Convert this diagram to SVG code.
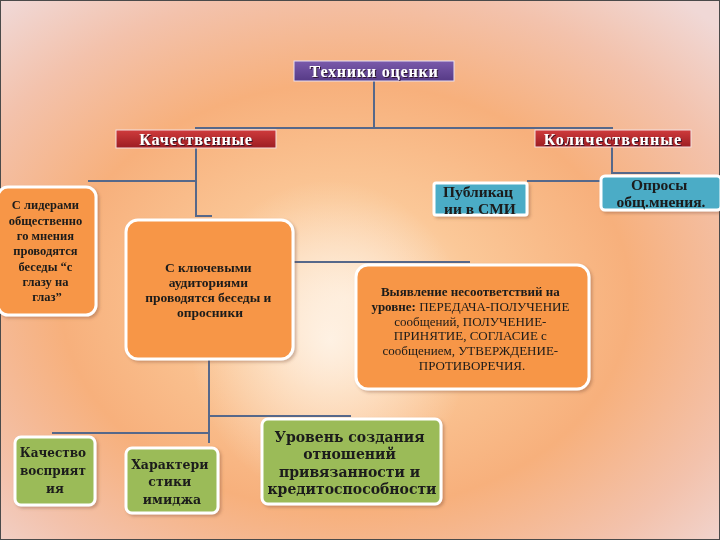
<svg xmlns="http://www.w3.org/2000/svg" width="720" height="540" viewBox="0 0 720 540">
<defs>
  <radialGradient id="bg" cx="0.48" cy="0.55" r="0.72">
    <stop offset="0" stop-color="#fde2c6"/>
    <stop offset="0.25" stop-color="#fbc898"/>
    <stop offset="0.55" stop-color="#f7b07c"/>
    <stop offset="0.8" stop-color="#f3c2ac"/>
    <stop offset="1" stop-color="#f0d8d6"/>
  </radialGradient>
  <radialGradient id="glow" cx="0.5" cy="0.5" r="0.5">
    <stop offset="0" stop-color="#fff6ec" stop-opacity="0.85"/>
    <stop offset="1" stop-color="#fff6ec" stop-opacity="0"/>
  </radialGradient>
  <linearGradient id="purple" x1="0" y1="0" x2="0" y2="1">
    <stop offset="0" stop-color="#7a5aab"/>
    <stop offset="1" stop-color="#563a86"/>
  </linearGradient>
  <linearGradient id="red" x1="0" y1="0" x2="0" y2="1">
    <stop offset="0" stop-color="#cf3b3c"/>
    <stop offset="1" stop-color="#9c1d22"/>
  </linearGradient>
  <filter id="ts" x="-10%" y="-30%" width="120%" height="160%">
    <feDropShadow dx="1" dy="1" stdDeviation="0.6" flood-color="#2a1020" flood-opacity="0.9"/>
  </filter>
  <filter id="bs" x="-10%" y="-10%" width="125%" height="125%">
    <feDropShadow dx="2" dy="2" stdDeviation="1.5" flood-color="#7a4a30" flood-opacity="0.35"/>
  </filter>
</defs>
<style>
  .hdr{font-family:"Liberation Serif","DejaVu Serif",serif;font-weight:bold;fill:#ffffff;text-anchor:middle;dominant-baseline:central}
  .t{font-family:"Liberation Serif","DejaVu Serif",serif;font-weight:bold;fill:#1a1a1a;text-anchor:middle;dominant-baseline:central}
  .g{font-family:"DejaVu Serif","Liberation Serif",serif;font-weight:bold;fill:#1a1a1a;text-anchor:middle;dominant-baseline:central}
  .n{font-weight:normal}
  .orange{fill:#f79646;stroke:#ffffff;stroke-width:3}
  .blue{fill:#4bacc6;stroke:#ffffff;stroke-width:3}
  .green{fill:#9bbb59;stroke:#ffffff;stroke-width:3}
  .conn{fill:none;stroke:#56688a;stroke-width:2}
</style>

<rect x="0" y="0" width="720" height="540" fill="url(#bg)"/>
<ellipse cx="330" cy="340" rx="140" ry="160" fill="url(#glow)"/>
<rect x="0.5" y="0.5" width="719" height="539" fill="none" stroke="#4a4a4a" stroke-width="1"/>

<g id="connectors">
  <path class="conn" d="M374,81 V128 M195,128 H613"/>
  <path class="conn" d="M196,148 V216 H212"/>
  <path class="conn" d="M88,181 H196"/>
  <path class="conn" d="M293,262 H470"/>
  <path class="conn" d="M612,147 V173 H680 M527,181 H601"/>
  <path class="conn" d="M209,359 V443 M209,416 H351 M52,433 H209"/>
</g>

<g id="tehniki">
  <rect x="294" y="61" width="160" height="20" fill="url(#purple)" stroke="#e8e0f0" stroke-width="1"/>
  <text class="hdr" x="374" y="71" font-size="16" letter-spacing="0.8" filter="url(#ts)">Техники оценки</text>
</g>

<g id="kach">
  <rect x="116" y="130" width="160" height="18" fill="url(#red)" stroke="#f3e0e0" stroke-width="1"/>
  <text class="hdr" x="196" y="139" font-size="16" letter-spacing="0.8" filter="url(#ts)">Качественные</text>
</g>

<g id="kolich">
  <rect x="535" y="130" width="156" height="17" fill="url(#red)" stroke="#f3e0e0" stroke-width="1"/>
  <text class="hdr" x="613" y="139" font-size="16" letter-spacing="1.2" filter="url(#ts)">Количественные</text>
</g>

<g id="lidery" filter="url(#bs)">
  <rect class="orange" x="-2" y="187" width="98" height="128" rx="10"/>
  <text class="t" font-size="12.5">
    <tspan x="47" y="205">С лидерами</tspan>
    <tspan x="47" y="221">общественно</tspan>
    <tspan x="47" y="236">го мнения</tspan>
    <tspan x="47" y="251">проводятся</tspan>
    <tspan x="47" y="267">беседы “с</tspan>
    <tspan x="47" y="282">глазу на</tspan>
    <tspan x="47" y="297">глаз”</tspan>
  </text>
</g>

<g id="klyuch" filter="url(#bs)">
  <rect class="orange" x="126" y="220" width="167" height="139" rx="12"/>
  <text class="t" font-size="13.5">
    <tspan x="210" y="267">С ключевыми</tspan>
    <tspan x="210" y="282">аудиториями</tspan>
    <tspan x="210" y="297">проводятся беседы и</tspan>
    <tspan x="210" y="312">опросники</tspan>
  </text>
</g>

<g id="publik" filter="url(#bs)">
  <rect class="blue" x="434" y="183" width="93" height="32" rx="2"/>
  <text class="t" font-size="15.5">
    <tspan x="480" y="191">Публикац</tspan>
    <tspan x="480" y="208">ии в СМИ</tspan>
  </text>
</g>

<g id="oprosy" filter="url(#bs)">
  <rect class="blue" x="601" y="176" width="120" height="34" rx="4"/>
  <text class="t" font-size="15.5">
    <tspan x="661" y="184">Опросы</tspan>
    <tspan x="661" y="201">общ.мнения.</tspan>
  </text>
</g>

<g id="vyyavlenie" filter="url(#bs)">
  <rect class="orange" x="356" y="265" width="233" height="124" rx="12"/>
  <text class="t" font-size="13">
    <tspan x="472" y="291">Выявление несоответствий на</tspan>
    <tspan x="472" y="306">уровне: <tspan class="n">ПЕРЕДАЧА-ПОЛУЧЕНИЕ</tspan></tspan>
    <tspan x="472" y="321" class="n">сообщений, ПОЛУЧЕНИЕ-</tspan>
    <tspan x="472" y="335" class="n">ПРИНЯТИЕ, СОГЛАСИЕ с</tspan>
    <tspan x="472" y="350" class="n">сообщением, УТВЕРЖДЕНИЕ-</tspan>
    <tspan x="472" y="365" class="n">ПРОТИВОРЕЧИЯ.</tspan>
  </text>
</g>

<g id="kachestvo" filter="url(#bs)">
  <rect class="green" x="15" y="437" width="80" height="68" rx="6"/>
  <text class="g" font-size="12">
    <tspan x="55" y="453">Качество</tspan>
    <tspan x="55" y="471">восприят</tspan>
    <tspan x="55" y="489">ия</tspan>
  </text>
</g>

<g id="harakter" filter="url(#bs)">
  <rect class="green" x="126" y="448" width="92" height="65" rx="6"/>
  <text class="g" font-size="12.5">
    <tspan x="172" y="464">Характери</tspan>
    <tspan x="172" y="481">стики</tspan>
    <tspan x="172" y="499">имиджа</tspan>
  </text>
</g>

<g id="uroven" filter="url(#bs)">
  <rect class="green" x="262" y="419" width="179" height="85" rx="6"/>
  <text class="g" font-size="14">
    <tspan x="352" y="437">Уровень создания</tspan>
    <tspan x="352" y="454">отношений</tspan>
    <tspan x="352" y="472">привязанности и</tspan>
    <tspan x="352" y="489">кредитоспособности</tspan>
  </text>
</g>
</svg>
